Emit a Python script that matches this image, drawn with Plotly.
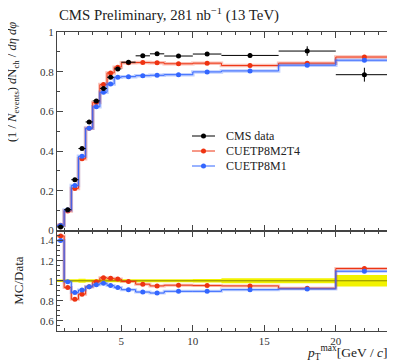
import plotly.graph_objects as go

# ---- data ----
bin_edges = [0.5, 1, 1.5, 2, 2.5, 3, 3.5, 4, 4.5, 5, 6, 7, 8, 10, 12, 16, 20, 24]
cms_data = [0.018, 0.105, 0.256, 0.413, 0.547, 0.653, 0.716, 0.772, 0.814, 0.848,
            0.880, 0.890, 0.879, 0.889, 0.882, 0.904, 0.785]
cms_err = [0.004, 0.004, 0.005, 0.005, 0.005, 0.005, 0.005, 0.005, 0.005, 0.005,
           0.006, 0.006, 0.008, 0.008, 0.012, 0.024, 0.035]
m2t4 = [0.026, 0.098, 0.212, 0.361, 0.515, 0.645, 0.735, 0.794, 0.823, 0.845,
        0.846, 0.845, 0.840, 0.843, 0.831, 0.843, 0.874]
m1 = [0.025, 0.104, 0.227, 0.374, 0.515, 0.623, 0.696, 0.738, 0.772, 0.775,
      0.780, 0.782, 0.785, 0.799, 0.804, 0.833, 0.858]
m2t4_ratio = [1.446, 0.932, 0.816, 0.867, 0.94, 0.99, 1.03, 1.024, 1.017, 0.993,
              0.966, 0.949, 0.956, 0.952, 0.949, 0.925, 1.122]
m1_ratio = [1.40, 0.99, 0.884, 0.908, 0.94, 0.96, 0.976, 0.952, 0.932, 0.911,
            0.888, 0.878, 0.895, 0.895, 0.911, 0.918, 1.095]
data_band = [0.012, 0.015, 0.015, 0.02, 0.015, 0.015, 0.015, 0.015, 0.015, 0.015,
             0.015, 0.015, 0.015, 0.017, 0.025, 0.025, 0.058]
legend_names = ["CMS data", "CUETP8M2T4", "CUETP8M1"]

centers = [(a + b) / 2 for a, b in zip(bin_edges[:-1], bin_edges[1:])]
half_w = [(b - a) / 2 for a, b in zip(bin_edges[:-1], bin_edges[1:])]

RED = "#ee3311"
BLUE = "#3366ff"
RED_L = "rgba(238,51,17,0.30)"
BLUE_L = "rgba(51,102,255,0.30)"
FONT = "Liberation Serif, Times New Roman, serif"
legend_colors = ["black", RED, BLUE]

fig = go.Figure()


def step(vals):
    return vals + [vals[-1]]


# ---- top panel ----
for vals, col, light in [(m2t4, RED, RED_L), (m1, BLUE, BLUE_L)]:
    fig.add_trace(go.Scatter(x=bin_edges, y=step(vals), mode="lines", line_shape="hv",
                             line=dict(color=light, width=3.5), hoverinfo="skip",
                             xaxis="x", yaxis="y"))
    fig.add_trace(go.Scatter(x=bin_edges, y=step(vals), mode="lines", line_shape="hv",
                             line=dict(color=col, width=1), xaxis="x", yaxis="y"))
    fig.add_trace(go.Scatter(x=centers, y=vals, mode="markers",
                             marker=dict(color=col, size=5), xaxis="x", yaxis="y"))

fig.add_trace(go.Scatter(x=centers, y=cms_data, mode="markers",
                         marker=dict(color="black", size=5),
                         error_y=dict(type="data", array=cms_err, color="black", thickness=1, width=0),
                         error_x=dict(type="data", array=half_w, color="black", thickness=1, width=0),
                         xaxis="x", yaxis="y"))

# ---- ratio panel ----
lo = [1 - e for e in data_band]
hi = [1 + e for e in data_band]
fig.add_trace(go.Scatter(x=bin_edges, y=step(lo), mode="lines", line_shape="hv",
                         line=dict(color="rgba(0,0,0,0)", width=0),
                         hoverinfo="skip", xaxis="x2", yaxis="y2"))
fig.add_trace(go.Scatter(x=bin_edges, y=step(hi), mode="lines", line_shape="hv",
                         line=dict(color="rgba(0,0,0,0)", width=0), fill="tonexty",
                         fillcolor="#f2f200", hoverinfo="skip", xaxis="x2", yaxis="y2"))
fig.add_trace(go.Scatter(x=[bin_edges[0], bin_edges[-1]], y=[1, 1], mode="lines",
                         line=dict(color="rgba(110,110,0,0.8)", width=1),
                         hoverinfo="skip", xaxis="x2", yaxis="y2"))

for vals, col, light in [(m2t4_ratio, RED, RED_L), (m1_ratio, BLUE, BLUE_L)]:
    fig.add_trace(go.Scatter(x=bin_edges, y=step(vals), mode="lines", line_shape="hv",
                             line=dict(color=light, width=3), hoverinfo="skip",
                             xaxis="x2", yaxis="y2"))
    fig.add_trace(go.Scatter(x=bin_edges, y=step(vals), mode="lines", line_shape="hv",
                             line=dict(color=col, width=1), xaxis="x2", yaxis="y2"))
    fig.add_trace(go.Scatter(x=centers, y=vals, mode="markers",
                             marker=dict(color=col, size=5), xaxis="x2", yaxis="y2"))

axis_common = dict(showline=True, linecolor="#444", linewidth=1, mirror="ticks",
                   ticks="inside", ticklen=6, tickcolor="#444", tickwidth=1,
                   showgrid=False, zeroline=False,
                   tickfont=dict(family=FONT, size=11, color="#333"))

split = 0.336
# page body has an 8px default margin top/left: figure is 387x356 so that
# the plot area spans x 57..393 and y 32..331 in the window
fig.update_layout(
    width=387, height=356,
    margin=dict(l=49, r=2, t=24, b=33),
    paper_bgcolor="white", plot_bgcolor="white",
    font=dict(family=FONT, color="#222"),
    showlegend=False,
    xaxis=dict(domain=[0, 1], range=[0.5, 24], anchor="y", matches="x2",
               showticklabels=False, dtick=5, tick0=0,
               minor=dict(ticks="inside", ticklen=3, dtick=1, tick0=0, tickcolor="#444"),
               **axis_common),
    yaxis=dict(domain=[split, 1], range=[0, 1.0], anchor="x", dtick=0.2,
               tickformat="~g",
               minor=dict(ticks="inside", ticklen=3, dtick=0.1, tickcolor="#444"),
               **axis_common),
    xaxis2=dict(domain=[0, 1], range=[0.5, 24], anchor="y2", dtick=5, tick0=0,
                minor=dict(ticks="inside", ticklen=3, dtick=1, tick0=0, tickcolor="#444"),
                **axis_common),
    yaxis2=dict(domain=[0, split], range=[0.5, 1.5], anchor="x2", dtick=0.2, tick0=0.6,
                tickformat="~g",
                minor=dict(ticks="inside", ticklen=3, dtick=0.05, tickcolor="#444"),
                **axis_common),
)

# ---- manual legend (plot area spans 336 x 299 px) ----
PW, PH = 336.0, 299.0
leg_x0 = (192 - 57) / PW
leg_x1 = (215 - 57) / PW
leg_xm = (leg_x0 + leg_x1) / 2
leg_tx = (224 - 57) / PW
for i, (name, col) in enumerate(zip(legend_names, legend_colors)):
    yy = (331 - (136 + 15 * i)) / PH
    fig.add_shape(type="line", xref="paper", yref="paper", x0=leg_x0, x1=leg_x1,
                  y0=yy, y1=yy, line=dict(color=col, width=1))
    fig.add_shape(type="circle", xref="paper", yref="paper", xsizemode="pixel",
                  ysizemode="pixel", xanchor=leg_xm, yanchor=yy, x0=-2.5, x1=2.5,
                  y0=-2.5, y1=2.5, fillcolor=col, line=dict(color=col, width=0))
    fig.add_annotation(text=name, xref="paper", yref="paper", x=leg_tx, y=yy,
                       xanchor="left", yanchor="middle", showarrow=False,
                       font=dict(family=FONT, size=12, color="#222"))

fig.add_annotation(text="CMS Preliminary, 281 nb<sup>−1</sup> (13 TeV)",
                   xref="paper", yref="paper", x=0, y=1.0, xanchor="left", yanchor="bottom",
                   yshift=6, showarrow=False, font=dict(family=FONT, size=14.8, color="#222"))
fig.add_annotation(text="(1 / <i>N</i><sub>events</sub>) <i>d</i>N<sub>ch</sub> / <i>dη dφ</i>",
                   xref="paper", yref="paper", x=0, xshift=-44, y=1.04, xanchor="center",
                   yanchor="top", textangle=-90, showarrow=False,
                   font=dict(family=FONT, size=12.5, color="#222"))
fig.add_annotation(text="MC/Data", xref="paper", yref="paper", x=0, xshift=-38,
                   y=split / 2, xanchor="center", yanchor="middle", textangle=-90,
                   showarrow=False, font=dict(family=FONT, size=13, color="#222"))
fig.add_annotation(text="<i>p</i><sub>T</sub><sup>max</sup>[GeV / <i>c</i>]",
                   xref="paper", yref="paper", x=1, y=0, xanchor="right", yanchor="bottom",
                   xshift=-3, yshift=-33, showarrow=False,
                   font=dict(family=FONT, size=13.5, color="#222"))

fig.write_html("out.html")
